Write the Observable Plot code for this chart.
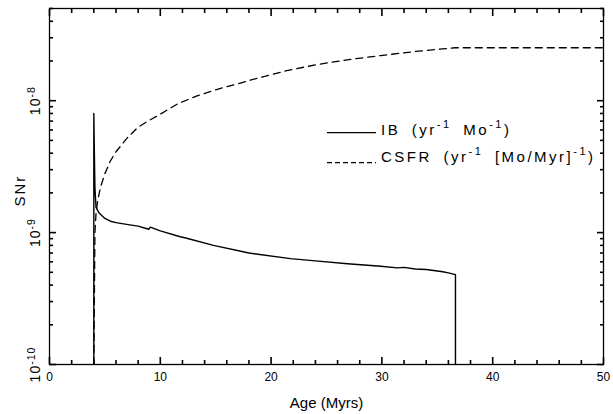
<!DOCTYPE html>
<html><head><meta charset="utf-8">
<script src="https://cdn.jsdelivr.net/npm/d3@7"></script>
<script src="https://cdn.jsdelivr.net/npm/@observablehq/plot@0.6"></script>
<style>html,body{margin:0;padding:0;background:#fff;} svg{display:block}</style>
</head><body><div id="chart"></div>
<script>
// IB supernova rate (solid)
const ibAge  = [4.0, 4.0, 4.05, 4.1, 4.2, 4.5, 5.0, 5.5, 6.0, 7.1, 8.0, 8.95, 9.1, 10.0, 11.8, 12.3, 14.8, 18.0, 21.75, 24.0, 26.9, 29.9, 31.4, 32.0, 33.0, 34.0, 35.5, 36.0, 36.64, 36.64];
const ibRate = [1e-10, 8.0e-9, 4.0e-9, 2.2e-9, 1.55e-9, 1.4e-9, 1.28e-9, 1.22e-9, 1.19e-9, 1.15e-9, 1.12e-9, 1.06e-9, 1.1e-9, 1.03e-9, 0.93e-9, 0.91e-9, 0.8e-9, 0.7e-9, 0.635e-9, 0.61e-9, 0.58e-9, 0.556e-9, 0.54e-9, 0.545e-9, 0.53e-9, 0.525e-9, 0.505e-9, 0.495e-9, 0.48e-9, 1e-10];
// CSFR rate (dashed)
const csfrAge  = [4.0, 4.1, 4.2, 4.35, 4.6, 5.0, 5.5, 6.0, 7.0, 8.0, 9.0, 10.0, 11.5, 13.2, 15.0, 16.8, 19.0, 21.3, 24.0, 27.0, 29.9, 33.0, 36.6, 50.0];
const csfrRate = [1e-10, 1.0e-9, 1.4e-9, 1.75e-9, 2.2e-9, 2.8e-9, 3.5e-9, 4.1e-9, 5.2e-9, 6.3e-9, 7.1e-9, 7.9e-9, 9.4e-9, 1.08e-8, 1.21e-8, 1.33e-8, 1.5e-8, 1.68e-8, 1.87e-8, 2.05e-8, 2.2e-8, 2.36e-8, 2.52e-8, 2.52e-8];

const xMajorTicks = [0, 10, 20, 30, 40, 50];
const xMinorTicks = [2,4,6,8,12,14,16,18,22,24,26,28,32,34,36,38,42,44,46,48];
const yMajorTicks = [1e-10, 1e-9, 1e-8];
const yMinorTicks = [2e-10,3e-10,4e-10,5e-10,6e-10,7e-10,8e-10,9e-10,2e-9,3e-9,4e-9,5e-9,6e-9,7e-9,8e-9,9e-9,2e-8,3e-8,4e-8,5e-8];
const xLabel = "Age (Myrs)";
const yLabel = "SNr";
const legendNames = ["IB", "CSFR"];
const legendUnits = [
  [["(yr", false], ["-1", true], [" Mo", false], ["-1", true], [")", false]],
  [["(yr", false], ["-1", true], [" [Mo/Myr]", false], ["-1", true], [")", false]]
];

const ib = ibAge.map((a, i) => ({age: a, rate: ibRate[i]}));
const csfr = csfrAge.map((a, i) => ({age: a, rate: csfrRate[i]}));

const FONT = "Liberation Sans, Arial, sans-serif";
// inward ticks: outward axis ticks shifted back inside the frame by their length
const tickAxis = (fn, ticks, anchor, size) => {
  const shift = {bottom: {dy: -size}, top: {dy: size}, left: {dx: size}, right: {dx: -size}}[anchor];
  return fn({ticks, anchor, tickSize: size, tickFormat: () => "", stroke: "#000", strokeWidth: 1.6, label: null, ...shift});
};

const plot = Plot.plot({
  width: 613, height: 414,
  marginLeft: 49, marginRight: 10, marginTop: 8, marginBottom: 50,
  style: {fontFamily: FONT, background: "white"},
  x: {domain: [0, 50]},
  y: {type: "log", domain: [1e-10, 5e-8]},
  marks: [
    Plot.line(ib, {x: "age", y: "rate", stroke: "black", strokeWidth: 1.4, clip: true}),
    Plot.line(csfr, {x: "age", y: "rate", stroke: "black", strokeWidth: 1.3, strokeDasharray: "7,5", clip: true}),
    tickAxis(Plot.axisX, xMajorTicks, "bottom", 7),
    tickAxis(Plot.axisX, xMinorTicks, "bottom", 4),
    tickAxis(Plot.axisX, xMajorTicks, "top", 7),
    tickAxis(Plot.axisX, xMinorTicks, "top", 4),
    tickAxis(Plot.axisY, yMajorTicks, "left", 7),
    tickAxis(Plot.axisY, yMinorTicks, "left", 4),
    tickAxis(Plot.axisY, yMajorTicks, "right", 7),
    tickAxis(Plot.axisY, yMinorTicks, "right", 4),
    Plot.frame({stroke: "black", strokeWidth: 1.3}),
    Plot.axisX({ticks: xMajorTicks, anchor: "bottom", tickSize: 0, tickPadding: 8, label: null, fontSize: 12, fill: "black", tickFormat: d => String(d)}),
    Plot.axisY({ticks: yMajorTicks, anchor: "left", tickSize: 0, tickPadding: 9.5, tickRotate: -90, label: null, fontSize: 14, fill: "black", tickFormat: d => "10^" + Math.round(Math.log10(d))}),
    Plot.text([xLabel], {frameAnchor: "bottom", dy: 38.5, text: d => d, fontSize: 15, fill: "black", lineAnchor: "middle"}),
    Plot.text([yLabel], {frameAnchor: "left", dx: -25, dy: 20, rotate: -90, text: d => d, fontSize: 15, fill: "black", lineAnchor: "bottom"})
  ]
});

document.getElementById("chart").appendChild(plot);
const svg = d3.select(plot);

// superscript exponents on y tick labels
svg.selectAll('g[aria-label="y-axis tick label"] text').each(function() {
  const t = d3.select(this);
  const s = t.text();
  const m = s.match(/^10\^(-?\d+)$/);
  if (!m) return;
  t.text(null).attr("letter-spacing", 1);
  t.append("tspan").text("10");
  t.append("tspan").attr("dy", "-0.45em").attr("font-size", "0.75em").text(m[1]);
});
svg.selectAll('text').filter(function(){return this.textContent === yLabel;}).attr("letter-spacing", 2);

// legend
const lg = svg.append("g").attr("font-family", FONT).attr("font-size", 15).attr("fill", "black").attr("text-anchor", "start");
const rows = [{y: 132.7, base: 135, dash: null}, {y: 162.7, base: 161.7, dash: "5,3"}];
rows.forEach((r, i) => {
  lg.append("line").attr("x1", 327).attr("x2", 376).attr("y1", r.y).attr("y2", r.y)
    .attr("stroke", "black").attr("stroke-width", 1.3).attr("stroke-dasharray", r.dash);
  const t = lg.append("text").attr("x", 381).attr("y", r.base).attr("text-anchor", "start").attr("letter-spacing", 2.5).attr("word-spacing", 5);
  t.append("tspan").text(legendNames[i] + " ");
  legendUnits[i].forEach(([s, sup], j) => {
    const prevSup = j > 0 && legendUnits[i][j-1][1];
    const ts = t.append("tspan").text(s);
    if (sup) ts.attr("dy", -7).attr("font-size", 11);
    else if (prevSup) ts.attr("dy", 7);
  });
});
</script>
</body></html>
